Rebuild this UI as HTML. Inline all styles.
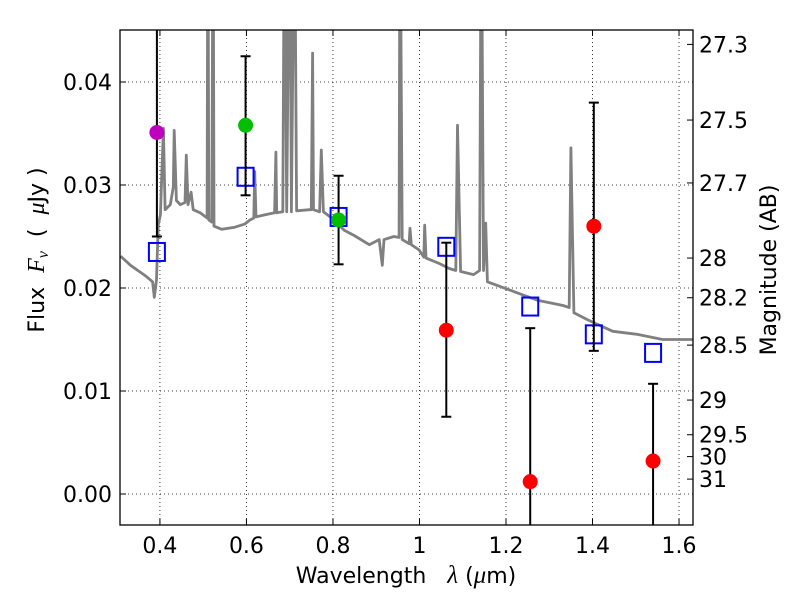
<!DOCTYPE html>
<html><head><meta charset="utf-8"><style>
html,body{margin:0;padding:0;background:#fff;}
svg{display:block;font-family:"DejaVu Sans","Liberation Sans",sans-serif;}
text{white-space:pre;}
</style></head><body>
<svg id="chart" width="800" height="600" viewBox="0 0 800 600" xmlns="http://www.w3.org/2000/svg">
<defs><clipPath id="clip"><rect x="120" y="30" width="573" height="495"/></clipPath></defs>
<rect x="0" y="0" width="800" height="600" fill="#fff"/>
<g id="grid"></g>
<g id="plot" clip-path="url(#clip)"></g>
<rect x="120" y="30" width="573" height="495" fill="none" stroke="#000" stroke-width="1.3"/>
<g id="axes"></g>
<text x="406" y="583" font-size="22" text-anchor="middle">Wavelength   <tspan font-style="italic" font-family="Liberation Serif,serif" font-size="25">λ</tspan> (<tspan font-style="italic" font-family="Liberation Serif,serif" font-size="25">μ</tspan>m)</text>
<text transform="translate(44,250) rotate(-90)" font-size="22" text-anchor="middle">Flux  <tspan font-style="italic" font-family="Liberation Serif,serif" font-size="24">F<tspan font-size="16" dy="4">ν</tspan></tspan><tspan dy="-4">  (  </tspan><tspan font-style="italic" font-family="Liberation Serif,serif" font-size="24">μ</tspan>Jy )</text>
<text transform="translate(776,270) rotate(-90)" font-size="22" text-anchor="middle">Magnitude (AB)</text>
</svg>
<script>
const specW=[0.309,0.332,0.366,0.383,0.387,0.392,0.396,0.401,0.408,0.412,0.424,0.431,0.433,0.438,0.447,0.458,0.461,0.465,0.472,0.477,0.493,0.509,0.511,0.513,0.520,0.523,0.525,0.543,0.573,0.596,0.608,0.617,0.619,0.622,0.642,0.665,0.668,0.670,0.684,0.688,0.693,0.700,0.704,0.711,0.716,0.746,0.750,0.753,0.755,0.769,0.773,0.778,0.803,0.826,0.849,0.884,0.907,0.914,0.918,0.941,0.953,0.955,0.960,0.976,0.978,0.981,0.999,1.010,1.012,1.015,1.045,1.068,1.084,1.088,1.095,1.125,1.139,1.143,1.148,1.153,1.157,1.183,1.228,1.274,1.332,1.346,1.350,1.357,1.389,1.431,1.447,1.504,1.562,1.640];
const specF=[0.0231,0.0222,0.0212,0.0206,0.0191,0.0208,0.0261,0.0271,0.0355,0.0276,0.0281,0.0298,0.0353,0.0285,0.0281,0.0283,0.0329,0.0281,0.0293,0.0276,0.0273,0.0268,0.06,0.0266,0.0264,0.06,0.0260,0.0257,0.0259,0.0262,0.0266,0.0268,0.0313,0.0269,0.0271,0.0273,0.0332,0.0273,0.0274,0.06,0.0274,0.06,0.0274,0.06,0.0275,0.0276,0.0276,0.0428,0.0276,0.0274,0.0334,0.0274,0.0266,0.0256,0.0251,0.0242,0.0247,0.0222,0.0247,0.0250,0.0249,0.06,0.0247,0.0243,0.0258,0.0242,0.0237,0.0230,0.0261,0.0229,0.0224,0.0219,0.0217,0.0358,0.0216,0.0213,0.0217,0.06,0.0217,0.0263,0.0206,0.0202,0.0195,0.0188,0.0183,0.0181,0.0336,0.0176,0.0169,0.0161,0.0158,0.0155,0.0150,0.0150];
const obsW=[0.393,0.598,0.813,1.062,1.256,1.403,1.540];
const obsF=[0.0351,0.0358,0.0266,0.0159,0.0012,0.0260,0.0032];
const errLo=[0.0250,0.0290,0.0223,0.0075,-0.0100,0.0139,-0.0100];
const errHi=[0.0600,0.0425,0.0309,0.0244,0.0161,0.0380,0.0107];
const obsColor=['#bf00bf','#00bf00','#00bf00','#ff0000','#ff0000','#ff0000','#ff0000'];
const modelF=[0.0235,0.0308,0.0269,0.0240,0.0182,0.0155,0.0137];
const xTicks=[0.4,0.6,0.8,1.0,1.2,1.4,1.6];
const xTickLabels=['0.4','0.6','0.8','1','1.2','1.4','1.6'];
const yTicks=[0,0.01,0.02,0.03,0.04];
const yTickLabels=['0.00','0.01','0.02','0.03','0.04'];
const magTicks=[27.3,27.5,27.7,28,28.2,28.5,29,29.5,30,31];

const X0=120,X1=693,Y0=525,Y1=30,xmin=0.3077,xmax=1.6323,ymin=-0.00301,ymax=0.04505;
const sx=v=>X0+(v-xmin)/(xmax-xmin)*(X1-X0);
const sy=v=>Y0-(v-ymin)/(ymax-ymin)*(Y0-Y1);
const NS='http://www.w3.org/2000/svg';
function mk(tag,attrs,parent){const e=document.createElementNS(NS,tag);for(const k in attrs)e.setAttribute(k,attrs[k]);parent.appendChild(e);return e;}
const grid=document.getElementById('grid'),plot=document.getElementById('plot'),axes=document.getElementById('axes');

xTicks.forEach((t,i)=>{
  const x=sx(t);
  const g=mk('line',{x1:x,x2:x,y1:Y1,y2:Y0,stroke:'#000','stroke-width':0.8,'stroke-dasharray':'1,3'},grid);
  
  
  mk('line',{x1:x,x2:x,y1:Y0,y2:Y0-6,stroke:'#000'},axes);
  mk('line',{x1:x,x2:x,y1:Y1,y2:Y1+6,stroke:'#000'},axes);
  const tx=mk('text',{x:x,y:Y0+28,'font-size':22,'text-anchor':'middle'},axes);
  tx.textContent=xTickLabels[i];
  
  
});
yTicks.forEach((t,i)=>{
  const y=sy(t);
  const g=mk('line',{x1:X0,x2:X1,y1:y,y2:y,stroke:'#000','stroke-width':0.8,'stroke-dasharray':'1,3'},grid);
  
  
  mk('line',{x1:X0,x2:X0+6,y1:y,y2:y,stroke:'#000'},axes);
  const tx=mk('text',{x:X0-8,y:y+8,'font-size':22,'text-anchor':'end'},axes);
  tx.textContent=yTickLabels[i];
  
  
});
magTicks.forEach(m=>{
  const y=sy(Math.pow(10,-0.4*(m-23.9)));
  mk('line',{x1:X1,x2:X1-6,y1:y,y2:y,stroke:'#000'},axes);
  const tx=mk('text',{x:X1+6,y:y+8,'font-size':22,'text-anchor':'start'},axes);
  tx.textContent=String(m);
  
  
});

const pts=specW.map((w,i)=>sx(w).toFixed(1)+','+sy(specF[i]).toFixed(1)).join(' ');
const sp=mk('polyline',{points:pts,fill:'none',stroke:'#808080','stroke-width':2.8,'stroke-linejoin':'round'},plot);



obsW.forEach((w,i)=>{
  const x=sx(w);
  const sq=mk('rect',{x:x-8,y:sy(modelF[i])-9,width:16,height:18,fill:'none',stroke:'#0000ff','stroke-width':2},plot);
  
  
  const eb=mk('line',{x1:x,x2:x,y1:sy(errLo[i]),y2:sy(errHi[i]),stroke:'#000','stroke-width':2},plot);
  
  
  [errLo[i],errHi[i]].forEach(v=>mk('line',{x1:x-5,x2:x+5,y1:sy(v),y2:sy(v),stroke:'#000','stroke-width':2},plot));
  const c=mk('circle',{cx:x,cy:sy(obsF[i]),r:7.5,fill:obsColor[i]},plot);
  
  
});
</script>
</body></html>
